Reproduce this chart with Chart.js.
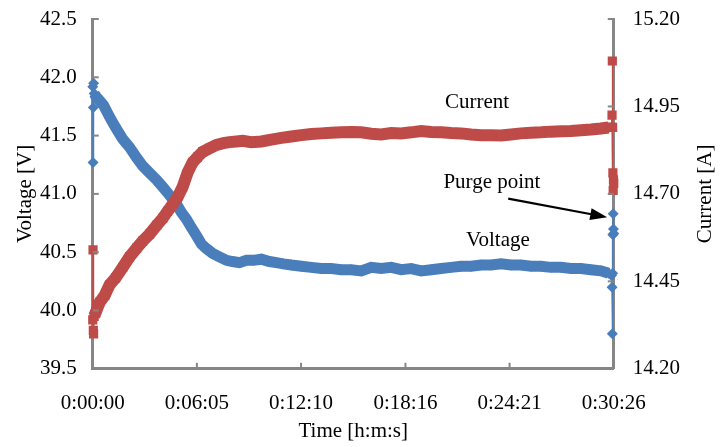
<!DOCTYPE html>
<html>
<head>
<meta charset="utf-8">
<script src="https://cdn.jsdelivr.net/npm/chart.js@4.4.1/dist/chart.umd.min.js"></script>
<style>
  html, body { margin: 0; padding: 0; background: #fff; }
  #wrap { width: 722px; height: 447px; }
</style>
</head>
<body>
<div id="wrap"><canvas id="chart"></canvas></div>
<script>
// time in seconds from start
const timeTicks = [0, 365, 730, 1096, 1461, 1826];

const voltTime = [0, 1, 2, 3, 5, 10, 24, 38, 59, 80, 105, 129, 154, 175, 199, 224, 245, 269, 294, 311, 329, 346, 364, 381, 399, 420, 444, 469, 490, 514, 539, 563, 591, 619, 644, 668, 696, 731, 766, 801, 836, 871, 906, 941, 976, 1011, 1046, 1081, 1116, 1151, 1186, 1221, 1256, 1291, 1326, 1361, 1396, 1431, 1466, 1501, 1536, 1571, 1606, 1641, 1676, 1711, 1746, 1781, 1808, 1818, 1820, 1821, 1822, 1823, 1824, 1825, 1826];
const voltage = [41.92, 41.27, 41.74, 41.95, 41.86, 41.84, 41.80, 41.76, 41.66, 41.57, 41.47, 41.40, 41.31, 41.24, 41.18, 41.12, 41.06, 40.99, 40.91, 40.84, 40.78, 40.71, 40.64, 40.57, 40.53, 40.49, 40.46, 40.43, 40.42, 40.41, 40.43, 40.43, 40.44, 40.42, 40.41, 40.40, 40.39, 40.38, 40.37, 40.36, 40.36, 40.35, 40.35, 40.34, 40.37, 40.36, 40.37, 40.35, 40.36, 40.34, 40.35, 40.36, 40.37, 40.38, 40.38, 40.39, 40.39, 40.40, 40.39, 40.39, 40.38, 40.38, 40.37, 40.37, 40.36, 40.36, 40.35, 40.34, 40.32, 40.30, 40.20, 39.80, 40.32, 40.65, 40.83, 40.70, 40.66];

const currTime = [0, 1, 2, 3, 5, 10, 24, 42, 59, 80, 105, 129, 154, 175, 199, 224, 245, 262, 280, 297, 315, 332, 350, 367, 385, 409, 434, 458, 479, 504, 525, 556, 591, 626, 661, 696, 731, 766, 801, 836, 871, 906, 941, 976, 1011, 1046, 1081, 1116, 1151, 1186, 1221, 1256, 1291, 1326, 1361, 1396, 1431, 1466, 1501, 1536, 1571, 1606, 1641, 1676, 1711, 1746, 1781, 1808, 1818, 1820, 1821, 1822, 1823, 1824, 1825, 1826];
const current = [14.34, 14.54, 14.31, 14.30, 14.35, 14.36, 14.39, 14.41, 14.44, 14.46, 14.49, 14.52, 14.545, 14.565, 14.585, 14.61, 14.63, 14.65, 14.67, 14.69, 14.72, 14.76, 14.79, 14.805, 14.82, 14.83, 14.84, 14.845, 14.848, 14.85, 14.852, 14.848, 14.85, 14.855, 14.86, 14.864, 14.868, 14.871, 14.873, 14.875, 14.876, 14.877, 14.876, 14.872, 14.87, 14.874, 14.873, 14.876, 14.88, 14.877, 14.876, 14.874, 14.873, 14.87, 14.868, 14.868, 14.867, 14.87, 14.873, 14.875, 14.876, 14.878, 14.879, 14.88, 14.882, 14.884, 14.887, 14.89, 14.89, 14.925, 15.08, 14.89, 14.76, 14.71, 14.74, 14.73];

const blue = '#4a7ebb';
const red = '#be4b48';
const axisGray = '#868686';
const font = 'Liberation Serif';
const fsize = 21;

function hms(s) {
  const h = Math.floor(s / 3600);
  const m = Math.floor((s % 3600) / 60);
  const sec = Math.round(s % 60);
  return h + ':' + String(m).padStart(2, '0') + ':' + String(sec).padStart(2, '0');
}

function pts(xs, ys) {
  return xs.map((x, i) => ({x: x, y: ys[i]}));
}

// thin line at the start / end spikes, thick band elsewhere
function segWidth(n, thick) {
  return ctx => (ctx.p0DataIndex < 4 || ctx.p0DataIndex >= n - 9) ? 1.5 : thick;
}

// don't let label overhang push the plot area around; layout padding does it
function noOverhang(s) {
  s.paddingLeft = 0; s.paddingRight = 0; s.paddingTop = 0; s.paddingBottom = 0;
}

// inward tick marks + axis titles
const axisExtras = {
  id: 'axisExtras',
  afterDraw(chart) {
    const c = chart.ctx, a = chart.chartArea;
    c.save();
    c.strokeStyle = axisGray;
    c.lineWidth = 2;
    const xs = chart.scales.x;
    xs.ticks.forEach(t => {
      const px = xs.getPixelForValue(t.value);
      c.beginPath(); c.moveTo(px, a.bottom); c.lineTo(px, a.bottom - 6); c.stroke();
    });
    const yl = chart.scales.y;
    yl.ticks.forEach(t => {
      const py = yl.getPixelForValue(t.value);
      c.beginPath(); c.moveTo(a.left, py); c.lineTo(a.left + 6, py); c.stroke();
    });
    const yr = chart.scales.y2;
    yr.ticks.forEach(t => {
      const py = yr.getPixelForValue(t.value);
      c.beginPath(); c.moveTo(a.right, py); c.lineTo(a.right - 6, py); c.stroke();
    });

    c.fillStyle = '#000';
    c.font = fsize + 'px "' + font + '"';
    c.textAlign = 'center';
    c.textBaseline = 'middle';
    const midY = (a.top + a.bottom) / 2;
    c.fillText('Time [h:m:s]', (a.left + a.right) / 2, a.bottom + 63);
    c.save(); c.translate(a.left - 67, midY); c.rotate(-Math.PI / 2);
    c.fillText('Voltage [V]', 0, 0); c.restore();
    c.save(); c.translate(a.right + 92, midY); c.rotate(-Math.PI / 2);
    c.fillText('Current [A]', 0, 0); c.restore();
    c.restore();
  }
};

// text labels and the arrow, positioned in data coordinates
const notes = {
  id: 'notes',
  afterDatasetsDraw(chart) {
    const c = chart.ctx, xs = chart.scales.x, ys = chart.scales.y;
    c.save();
    c.fillStyle = '#000';
    c.font = fsize + 'px "' + font + '"';
    c.textAlign = 'center';
    c.textBaseline = 'middle';
    c.fillText('Current', xs.getPixelForValue(1347), ys.getPixelForValue(41.78));
    c.fillText('Purge point', xs.getPixelForValue(1399), ys.getPixelForValue(41.10));
    c.fillText('Voltage', xs.getPixelForValue(1420), ys.getPixelForValue(40.60));
    const x0 = xs.getPixelForValue(1456), y0 = ys.getPixelForValue(40.96);
    const x1 = xs.getPixelForValue(1803), y1 = ys.getPixelForValue(40.80);
    const ang = Math.atan2(y1 - y0, x1 - x0);
    c.strokeStyle = '#000';
    c.lineWidth = 2.2;
    c.beginPath(); c.moveTo(x0, y0);
    c.lineTo(x1 - 12 * Math.cos(ang), y1 - 12 * Math.sin(ang)); c.stroke();
    c.beginPath();
    c.moveTo(x1, y1);
    c.lineTo(x1 - 17 * Math.cos(ang) + 6 * Math.sin(ang), y1 - 17 * Math.sin(ang) - 6 * Math.cos(ang));
    c.lineTo(x1 - 17 * Math.cos(ang) - 6 * Math.sin(ang), y1 - 17 * Math.sin(ang) + 6 * Math.cos(ang));
    c.closePath(); c.fill();
    c.restore();
  }
};

new Chart(document.getElementById('chart'), {
  type: 'line',
  data: {
    datasets: [{
      label: 'Current',
      data: pts(currTime, current),
      yAxisID: 'y2',
      borderColor: red,
      backgroundColor: red,
      borderWidth: 12,
      pointStyle: 'rect',
      pointRadius: 6.5,
      pointBorderWidth: 0,
      segment: {borderWidth: segWidth(current.length, 12)},
      tension: 0,
      clip: 8
    }, {
      label: 'Voltage',
      data: pts(voltTime, voltage),
      yAxisID: 'y',
      borderColor: blue,
      backgroundColor: blue,
      borderWidth: 11,
      pointStyle: 'rectRot',
      pointRadius: 5.5,
      pointBorderWidth: 0,
      segment: {borderWidth: segWidth(voltage.length, 11)},
      tension: 0,
      clip: 8
    }]
  },
  options: {
    responsive: true,
    maintainAspectRatio: false,
    animation: false,
    layout: {padding: {left: 24, right: 23, top: 19, bottom: 9}},
    plugins: {legend: {display: false}, tooltip: {enabled: false}},
    scales: {
      x: {
        type: 'linear',
        min: 0,
        max: 1826,
        afterBuildTicks: s => { s.ticks = timeTicks.map(v => ({value: v})); },
        afterFit: noOverhang,
        ticks: {
          callback: v => hms(v),
          color: '#000',
          font: {family: font, size: fsize},
          padding: 22,
          maxRotation: 0,
          autoSkip: false
        },
        grid: {drawOnChartArea: false, drawTicks: false},
        border: {color: axisGray, width: 3}
      },
      y: {
        position: 'left',
        min: 39.5,
        max: 42.5,
        afterFit: noOverhang,
        ticks: {
          stepSize: 0.5,
          callback: v => v.toFixed(1),
          color: '#000',
          font: {family: font, size: fsize},
          padding: 16
        },
        grid: {drawOnChartArea: false, drawTicks: false},
        border: {color: axisGray, width: 3}
      },
      y2: {
        position: 'right',
        min: 14.2,
        max: 15.2,
        afterFit: noOverhang,
        ticks: {
          stepSize: 0.25,
          callback: v => v.toFixed(2),
          color: '#000',
          font: {family: font, size: fsize},
          padding: 19
        },
        grid: {drawOnChartArea: false, drawTicks: false},
        border: {color: axisGray, width: 3}
      }
    }
  },
  plugins: [axisExtras, notes]
});
</script>
</body>
</html>
